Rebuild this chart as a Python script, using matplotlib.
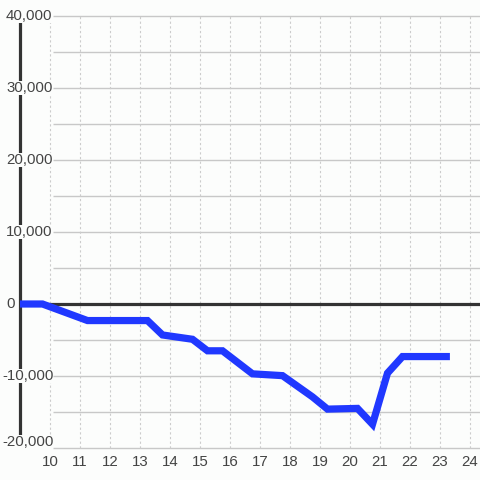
import matplotlib
matplotlib.use("Agg")
import matplotlib.pyplot as plt
import matplotlib.transforms as mtransforms

# ---------------- Data ----------------
hours = [9.0, 9.75, 11.25, 13.25, 13.75, 14.75, 15.25, 15.75, 16.75,
         17.75, 18.75, 19.25, 20.25, 20.75, 21.25, 21.75, 23.33]
values = [0, 0, -2300, -2300, -4300, -4900, -6500, -6500, -9700,
          -9950, -12900, -14600, -14500, -16700, -9600, -7300, -7300]

x_ticks = list(range(10, 25))
y_ticks = [40000, 30000, 20000, 10000, 0, -10000, -20000]
y_grid = list(range(-20000, 40001, 5000))

# ---------------- Style ----------------
BG = "#fcfdfc"
LINE_BLUE = "#2038ff"
AXIS_DARK = "#333333"
GRID = "#c8c8c8"
TEXT = "#444444"
FONT = "Liberation Sans"

fig = plt.figure(figsize=(4.8, 4.8), dpi=100, facecolor=BG)
ax = fig.add_axes([0, 0, 1, 1], facecolor=BG)
ax.set_xlim(8.3333, 24.3333)
ax.set_ylim(-24444, 42222)
ax.axis("off")

# grid
ax.hlines(y_grid, 10.1, 24.3333, colors=GRID, lw=1.0, zorder=1)
ax.vlines(x_ticks, -20000, 40000, colors="#cccccc", lw=0.8,
          linestyles=(0, (2, 2.2)), zorder=1)

# axes lines
ax.vlines(9, -20000, 40000, colors=AXIS_DARK, lw=2.3, zorder=2)
ax.hlines(0, 9, 24.3333, colors=AXIS_DARK, lw=2.3, zorder=2)

# data
ax.plot(hours, values, color=LINE_BLUE, lw=5.2, solid_capstyle="butt",
        solid_joinstyle="miter", zorder=3)

# y labels (boxes hide the axis line behind them)
yt = mtransforms.blended_transform_factory(ax.transAxes, ax.transData)
for v in y_ticks:
    x_px = 2 if v < 0 else 6
    y_val = v + 900 if v == -20000 else v
    ax.text(x_px / 480, y_val, f"{v:,}", transform=yt,
            ha="left", va="center", fontsize=10.8, family=FONT, color=TEXT,
            bbox=dict(boxstyle="square,pad=0", fc=BG, ec="none"), zorder=4)

# x labels
xt = mtransforms.blended_transform_factory(ax.transData, ax.transAxes)
for t in x_ticks:
    ax.text(t, 1 - 462 / 480, str(t), transform=xt, ha="center", va="center",
            fontsize=10.8, family=FONT, color=TEXT, zorder=4)

fig.savefig("out.png", dpi=100, facecolor=BG)
